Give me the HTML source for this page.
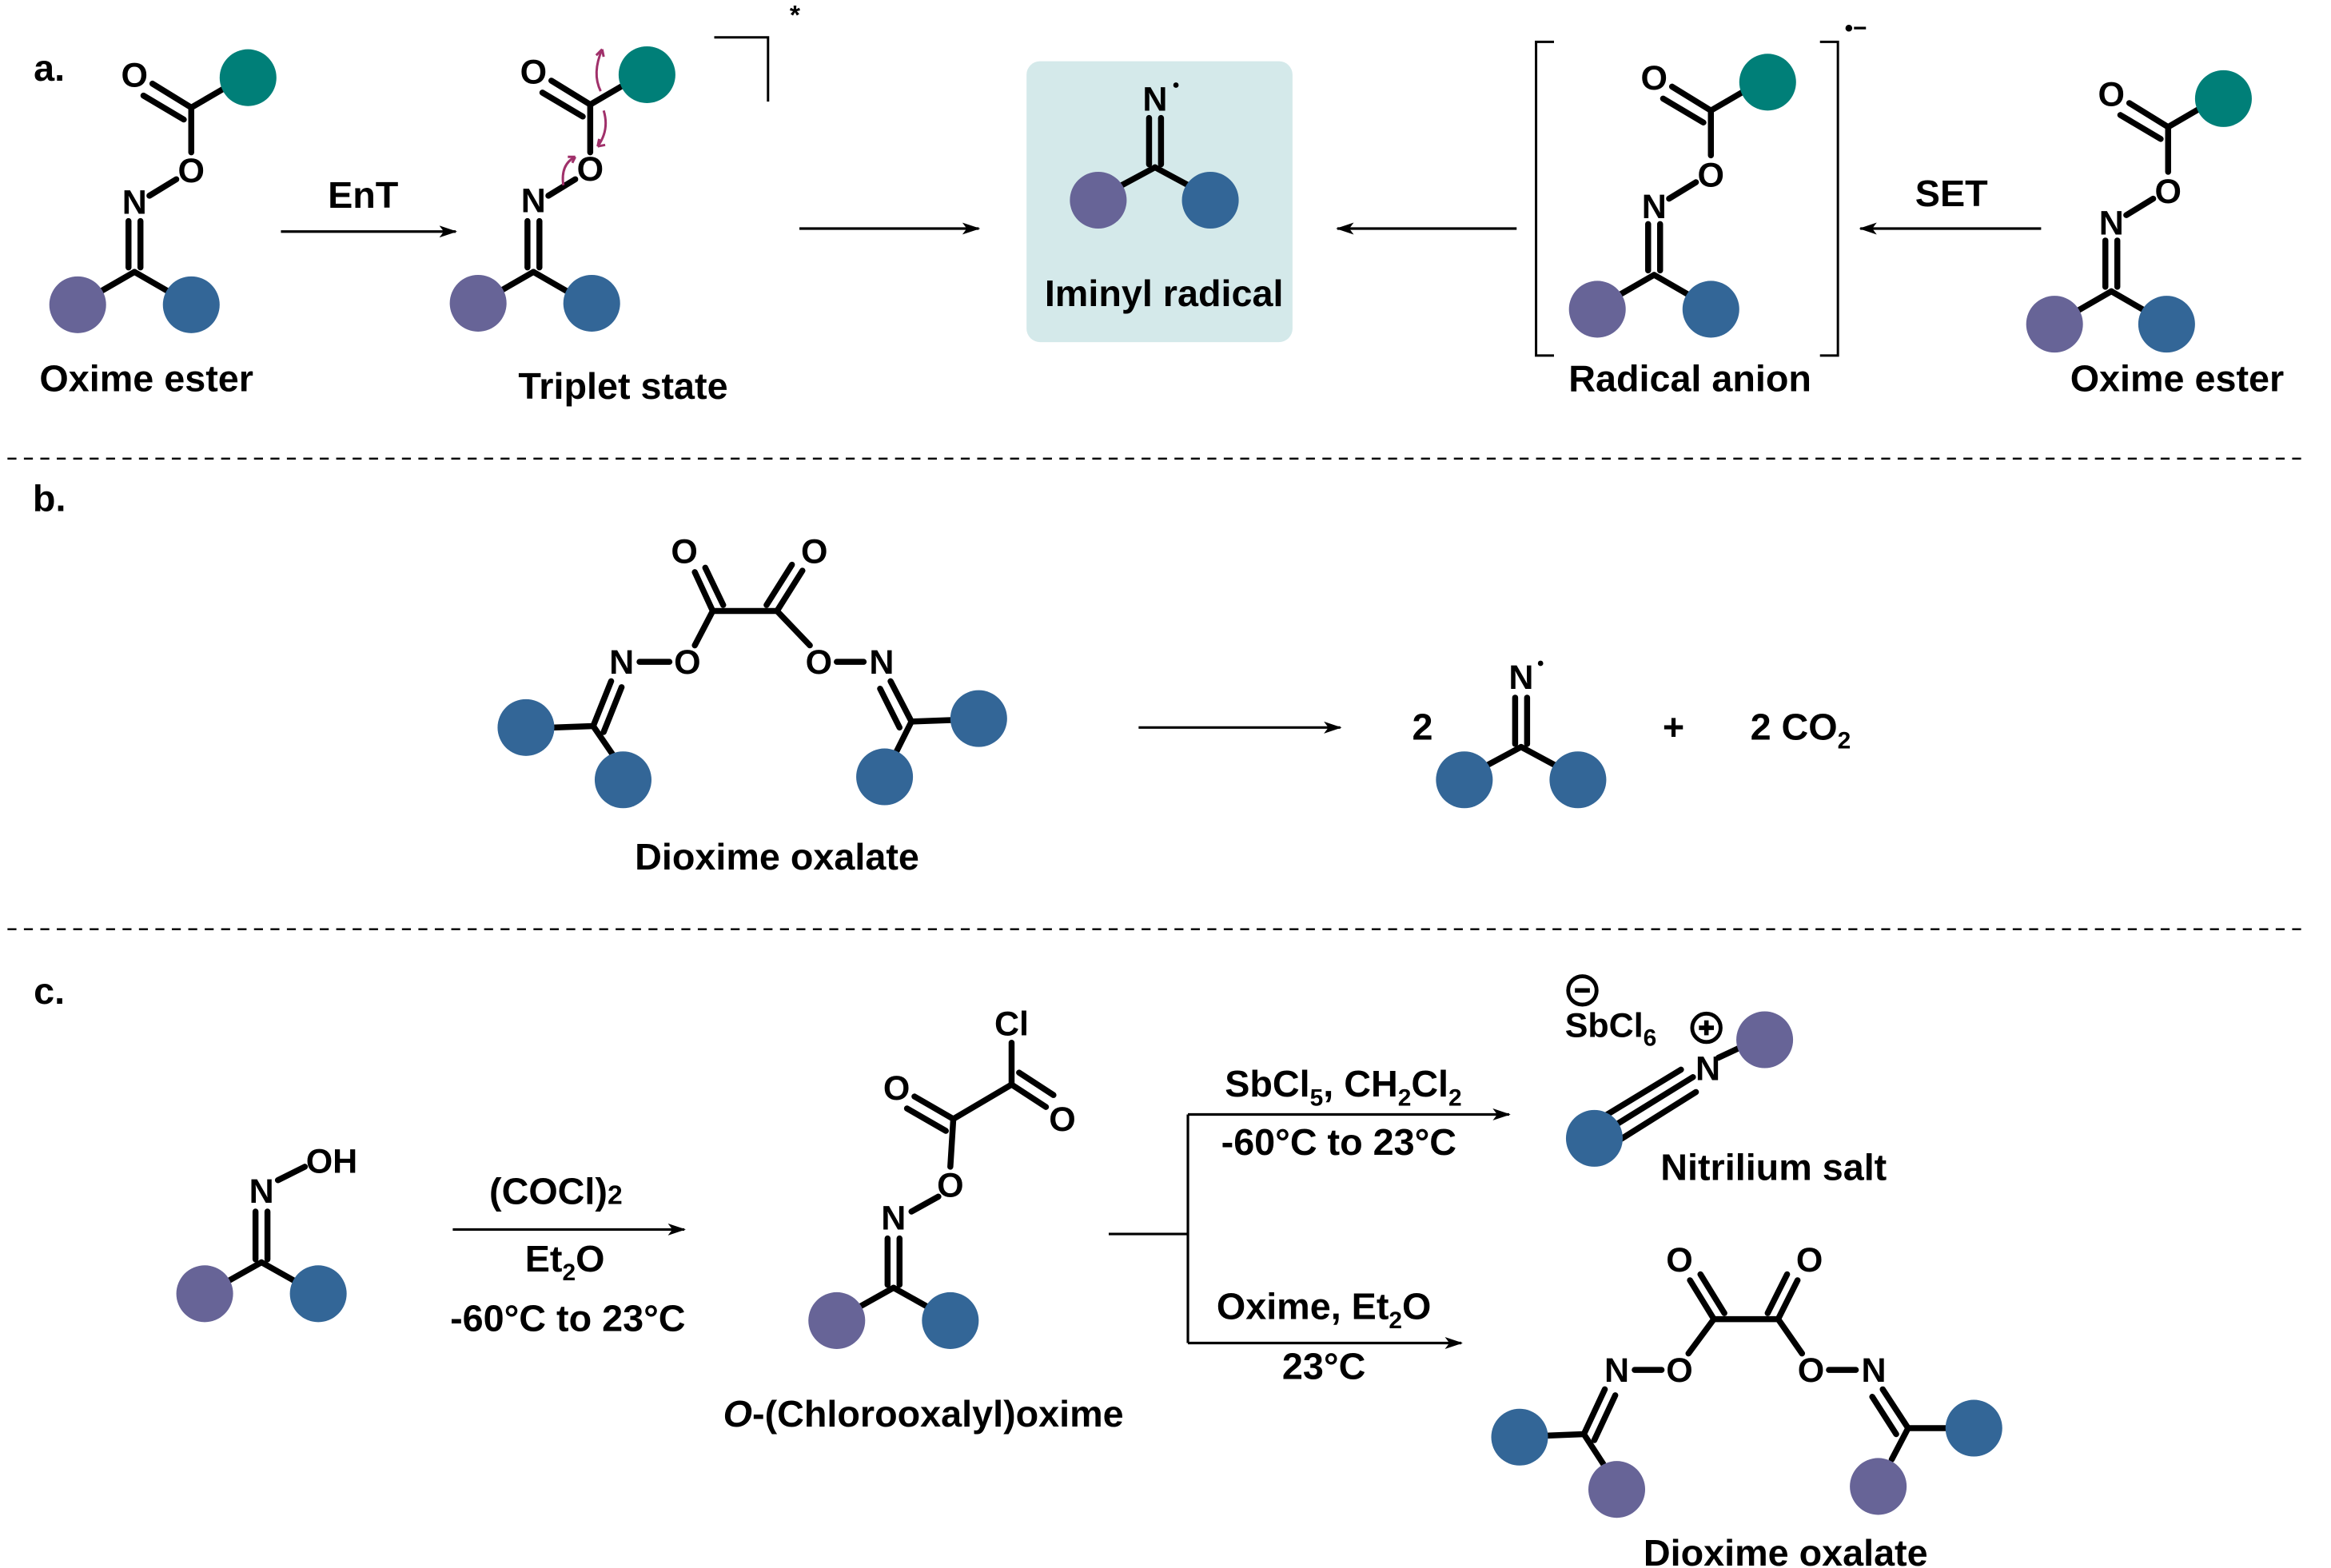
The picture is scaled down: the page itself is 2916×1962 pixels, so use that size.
<!DOCTYPE html>
<html><head><meta charset="utf-8"><style>
html,body{margin:0;padding:0;background:#fff;}
svg{display:block;}
.b{stroke:#000;stroke-width:4;stroke-linecap:round;fill:none;}
.t{stroke:#000;stroke-width:1.7;fill:none;}
.a{font-family:"Liberation Sans",sans-serif;font-size:23px;font-weight:bold;text-anchor:middle;fill:#000;}
.l{font-family:"Liberation Sans",sans-serif;font-size:25px;font-weight:bold;text-anchor:middle;fill:#000;}
.r{stroke:#a0306a;stroke-width:1.6;fill:none;}
.P{fill:#676497}.B{fill:#336697}.T{fill:#007f78}
</style></head><body>
<svg width="2916" height="1962" viewBox="0 0 1560 1049.6" preserveAspectRatio="none" xmlns="http://www.w3.org/2000/svg">
<defs><marker id="ar" markerWidth="12" markerHeight="8" refX="11" refY="4" orient="auto" markerUnits="userSpaceOnUse"><path d="M0,0 L12,4 L0,8 L3,4z" fill="#000"/></marker></defs>

<!-- a. -->
<text class="l" x="33" y="54">a.</text>
<g transform="translate(90,182)">
<line class="b" x1="0" y1="0" x2="-26" y2="15"/><line class="b" x1="0" y1="0" x2="26" y2="15"/>
<line class="b" x1="-4" y1="-3" x2="-4" y2="-34"/><line class="b" x1="4" y1="-3" x2="4" y2="-34"/>
<line class="b" x1="10" y1="-51" x2="28" y2="-62"/>
<line class="b" x1="38" y1="-80" x2="38" y2="-110"/>
<line class="b" x1="38" y1="-110" x2="62" y2="-124"/>
<line class="b" x1="38" y1="-110" x2="12" y2="-126"/><line class="b" x1="33" y1="-102" x2="6" y2="-118"/>
<circle class="P" cx="-38" cy="22" r="19"/><circle class="B" cx="38" cy="22" r="19"/><circle class="T" cx="76" cy="-130" r="19"/>
<text class="a" x="0" y="-39">N</text><text class="a" x="38" y="-60">O</text><text class="a" x="0" y="-124">O</text>
</g>
<text class="l" x="98" y="262">Oxime ester</text>
<line class="t" x1="188" y1="155" x2="305" y2="155" marker-end="url(#ar)"/>
<text class="l" x="243" y="139">EnT</text>
<g transform="translate(357,182)">
<line class="b" x1="0" y1="0" x2="-26" y2="15"/><line class="b" x1="0" y1="0" x2="26" y2="15"/>
<line class="b" x1="-4" y1="-3" x2="-4" y2="-34"/><line class="b" x1="4" y1="-3" x2="4" y2="-34"/>
<line class="b" x1="10" y1="-51" x2="28" y2="-62"/>
<line class="b" x1="38" y1="-80" x2="38" y2="-112"/>
<line class="b" x1="38" y1="-112" x2="62" y2="-126"/>
<line class="b" x1="38" y1="-112" x2="12" y2="-128"/><line class="b" x1="33" y1="-104" x2="6" y2="-120"/>
<circle class="P" cx="-37" cy="21" r="19"/><circle class="B" cx="39" cy="21" r="19"/><circle class="T" cx="76" cy="-132" r="19"/>
<text class="a" x="0" y="-40">N</text><text class="a" x="38" y="-61">O</text><text class="a" x="0" y="-126">O</text>
<path class="r" d="M45,-121 Q39,-133 46,-149"/><path d="M46,-149 l-4,4 M46,-149 l1,5" class="r"/>
<path class="r" d="M47,-108 Q51,-95 43,-84"/><path d="M43,-84 l5,-1 M43,-84 l1,-5" class="r"/>
<path class="r" d="M20,-58 Q18,-72 28,-77"/><path d="M28,-77 l-5,0 M28,-77 l-2,4" class="r"/>
</g>
<polyline points="478,25 514,25 514,68" fill="none" stroke="#000" stroke-width="1.6"/>
<text class="l" x="532" y="16" style="font-size:18px">*</text>
<text class="l" x="417" y="267">Triplet state</text>
<line class="t" x1="535" y1="153" x2="655" y2="153" marker-end="url(#ar)"/>
<rect x="687" y="41" width="178" height="188" rx="9" fill="#d4e9ea"/>
<g transform="translate(773,112)">
<line class="b" x1="0" y1="0" x2="-26" y2="14"/><line class="b" x1="0" y1="0" x2="26" y2="14"/>
<line class="b" x1="-4" y1="-2" x2="-4" y2="-33"/><line class="b" x1="4" y1="-2" x2="4" y2="-33"/>
<circle class="P" cx="-38" cy="22" r="19"/><circle class="B" cx="37" cy="22" r="19"/>
<text class="a" x="0" y="-38">N</text><circle cx="14" cy="-55" r="1.8" fill="#000"/>
</g>
<text class="l" x="779" y="205">Iminyl radical</text>
<line class="t" x1="1015" y1="153" x2="895" y2="153" marker-end="url(#ar)"/>
<polyline points="1040,28 1028,28 1028,238 1040,238" fill="none" stroke="#000" stroke-width="1.6"/>
<polyline points="1218,28 1230,28 1230,238 1218,238" fill="none" stroke="#000" stroke-width="1.6"/>
<text class="l" x="1242" y="24" style="font-size:16px">•−</text>
<g transform="translate(1107,184)">
<line class="b" x1="0" y1="0" x2="-26" y2="15"/><line class="b" x1="0" y1="0" x2="26" y2="15"/>
<line class="b" x1="-4" y1="-3" x2="-4" y2="-34"/><line class="b" x1="4" y1="-3" x2="4" y2="-34"/>
<line class="b" x1="10" y1="-51" x2="28" y2="-62"/>
<line class="b" x1="38" y1="-80" x2="38" y2="-110"/>
<line class="b" x1="38" y1="-110" x2="62" y2="-124"/>
<line class="b" x1="38" y1="-110" x2="12" y2="-126"/><line class="b" x1="33" y1="-102" x2="6" y2="-118"/>
<circle class="P" cx="-38" cy="23" r="19"/><circle class="B" cx="38" cy="23" r="19"/><circle class="T" cx="76" cy="-129" r="19"/>
<text class="a" x="0" y="-38">N</text><text class="a" x="38" y="-59">O</text><text class="a" x="0" y="-124">O</text>
</g>
<text class="l" x="1131" y="262">Radical anion</text>
<line class="t" x1="1366" y1="153" x2="1245" y2="153" marker-end="url(#ar)"/>
<text class="l" x="1306" y="138">SET</text>
<g transform="translate(1413,195)">
<line class="b" x1="0" y1="0" x2="-26" y2="15"/><line class="b" x1="0" y1="0" x2="26" y2="15"/>
<line class="b" x1="-4" y1="-3" x2="-4" y2="-34"/><line class="b" x1="4" y1="-3" x2="4" y2="-34"/>
<line class="b" x1="10" y1="-51" x2="28" y2="-62"/>
<line class="b" x1="38" y1="-80" x2="38" y2="-110"/>
<line class="b" x1="38" y1="-110" x2="62" y2="-124"/>
<line class="b" x1="38" y1="-110" x2="12" y2="-126"/><line class="b" x1="33" y1="-102" x2="6" y2="-118"/>
<circle class="P" cx="-38" cy="22" r="19"/><circle class="B" cx="37" cy="22" r="19"/><circle class="T" cx="75" cy="-129" r="19"/>
<text class="a" x="0" y="-38">N</text><text class="a" x="38" y="-59">O</text><text class="a" x="0" y="-124">O</text>
</g>
<text class="l" x="1457" y="262">Oxime ester</text>

<line x1="5" y1="307" x2="1545" y2="307" stroke="#000" stroke-width="1.3" stroke-dasharray="6,5"/>

<text class="l" x="33" y="342">b.</text>
<line class="b" x1="370" y1="487" x2="397" y2="486"/>
<line class="b" x1="397" y1="486" x2="410" y2="505"/>
<line class="b" x1="397" y1="486" x2="409" y2="456"/><line class="b" x1="404" y1="490" x2="416" y2="460"/>
<line class="b" x1="428" y1="443" x2="448" y2="443"/>
<line class="b" x1="465" y1="432" x2="477" y2="409"/>
<line class="b" x1="477" y1="409" x2="465" y2="383"/><line class="b" x1="484" y1="405" x2="472" y2="380"/>
<line class="b" x1="477" y1="409" x2="520" y2="409"/>
<line class="b" x1="520" y1="409" x2="537" y2="382"/><line class="b" x1="513" y1="405" x2="530" y2="378"/>
<line class="b" x1="520" y1="409" x2="542" y2="432"/>
<line class="b" x1="560" y1="443" x2="578" y2="443"/>
<line class="b" x1="596" y1="456" x2="610" y2="483"/><line class="b" x1="589" y1="461" x2="602" y2="487"/>
<line class="b" x1="610" y1="483" x2="637" y2="482"/><line class="b" x1="610" y1="483" x2="600" y2="503"/>
<circle class="B" cx="352" cy="487" r="19"/><circle class="B" cx="417" cy="522" r="19"/>
<circle class="B" cx="655" cy="481" r="19"/><circle class="B" cx="592" cy="520" r="19"/>
<text class="a" x="416" y="451">N</text><text class="a" x="460" y="451">O</text>
<text class="a" x="458" y="377">O</text><text class="a" x="545" y="377">O</text>
<text class="a" x="548" y="451">O</text><text class="a" x="590" y="451">N</text>
<text class="l" x="520" y="582">Dioxime oxalate</text>
<line class="t" x1="762" y1="487" x2="897" y2="487" marker-end="url(#ar)"/>
<text class="l" x="952" y="495">2</text>
<g transform="translate(1018,500)">
<line class="b" x1="0" y1="0" x2="-26" y2="14"/><line class="b" x1="0" y1="0" x2="26" y2="14"/>
<line class="b" x1="-4" y1="-2" x2="-4" y2="-33"/><line class="b" x1="4" y1="-2" x2="4" y2="-33"/>
<circle class="B" cx="-38" cy="22" r="19"/><circle class="B" cx="38" cy="22" r="19"/>
<text class="a" x="0" y="-39">N</text><circle cx="13" cy="-56" r="1.8" fill="#000"/>
</g>
<text class="l" x="1120" y="495">+</text>
<text class="l" x="1205" y="495">2 CO<tspan dy="6" style="font-size:16px">2</tspan></text>

<line x1="5" y1="622" x2="1545" y2="622" stroke="#000" stroke-width="1.3" stroke-dasharray="6,5"/>

<text class="l" x="33" y="672">c.</text>
<line class="b" x1="175" y1="845" x2="150" y2="859"/><line class="b" x1="175" y1="845" x2="200" y2="859"/>
<line class="b" x1="171" y1="843" x2="171" y2="811"/><line class="b" x1="179" y1="843" x2="179" y2="811"/>
<line class="b" x1="186" y1="790" x2="204" y2="781"/>
<circle class="P" cx="137" cy="866" r="19"/><circle class="B" cx="213" cy="866" r="19"/>
<text class="a" x="175" y="805">N</text><text class="a" x="222" y="785">OH</text>
<line class="t" x1="303" y1="823" x2="458" y2="823" marker-end="url(#ar)"/>
<text class="l" x="372" y="806">(COCl)<tspan style="font-size:18px">2</tspan></text>
<text class="l" x="378" y="851">Et<tspan dy="6" style="font-size:16px">2</tspan><tspan dy="-6">O</tspan></text>
<text class="l" x="380" y="891">-60°C to 23°C</text>
<line class="b" x1="677" y1="698" x2="677" y2="726"/>
<line class="b" x1="677" y1="726" x2="700" y2="741"/><line class="b" x1="682" y1="718" x2="705" y2="733"/>
<line class="b" x1="677" y1="726" x2="638" y2="749"/>
<line class="b" x1="638" y1="749" x2="612" y2="734"/><line class="b" x1="633" y1="757" x2="607" y2="742"/>
<line class="b" x1="638" y1="749" x2="636" y2="781"/>
<line class="b" x1="628" y1="801" x2="610" y2="811"/>
<line class="b" x1="594" y1="829" x2="594" y2="860"/><line class="b" x1="602" y1="829" x2="602" y2="860"/>
<line class="b" x1="598" y1="862" x2="573" y2="876"/><line class="b" x1="598" y1="862" x2="623" y2="876"/>
<circle class="P" cx="560" cy="884" r="19"/><circle class="B" cx="636" cy="884" r="19"/>
<text class="a" x="677" y="693">Cl</text><text class="a" x="711" y="757">O</text><text class="a" x="600" y="736">O</text>
<text class="a" x="636" y="801">O</text><text class="a" x="598" y="823">N</text>
<text class="l" x="618" y="955"><tspan font-style="italic">O</tspan>-(Chlorooxalyl)oxime</text>
<line class="t" x1="742" y1="826" x2="795" y2="826"/>
<line class="t" x1="795" y1="746" x2="795" y2="899"/>
<line class="t" x1="795" y1="746" x2="1010" y2="746" marker-end="url(#ar)"/>
<line class="t" x1="795" y1="899" x2="978" y2="899" marker-end="url(#ar)"/>
<text class="l" x="899" y="734">SbCl<tspan dy="6" style="font-size:16px">5</tspan><tspan dy="-6">, CH</tspan><tspan dy="6" style="font-size:16px">2</tspan><tspan dy="-6">Cl</tspan><tspan dy="6" style="font-size:16px">2</tspan></text>
<text class="l" x="896" y="773">-60°C to 23°C</text>
<text class="l" x="886" y="883">Oxime, Et<tspan dy="6" style="font-size:16px">2</tspan><tspan dy="-6">O</tspan></text>
<text class="l" x="886" y="923">23°C</text>
<circle cx="1059" cy="663" r="9.5" fill="none" stroke="#000" stroke-width="2.6"/><line x1="1054" y1="663" x2="1064" y2="663" stroke="#000" stroke-width="3"/>
<text class="a" x="1078" y="694" style="font-size:23px">SbCl<tspan dy="6" style="font-size:16px">6</tspan></text>
<circle cx="1142" cy="688" r="9.5" fill="none" stroke="#000" stroke-width="2.6"/>
<line x1="1137" y1="688" x2="1147" y2="688" stroke="#000" stroke-width="3"/><line x1="1142" y1="683" x2="1142" y2="693" stroke="#000" stroke-width="3"/>
<line class="b" x1="1078" y1="755" x2="1133" y2="721"/>
<line class="b" x1="1074" y1="747" x2="1125" y2="716"/>
<line class="b" x1="1084" y1="763" x2="1135" y2="731"/>
<line class="b" x1="1150" y1="708" x2="1165" y2="701"/>
<circle class="B" cx="1067" cy="762" r="19"/><circle class="P" cx="1181" cy="696" r="19"/>
<text class="a" x="1143" y="723">N</text>
<text class="l" x="1187" y="790">Nitrilium salt</text>
<line class="b" x1="1035" y1="961" x2="1060" y2="960"/>
<line class="b" x1="1060" y1="960" x2="1073" y2="980"/>
<line class="b" x1="1060" y1="960" x2="1074" y2="930"/><line class="b" x1="1067" y1="964" x2="1081" y2="934"/>
<line class="b" x1="1094" y1="917" x2="1112" y2="917"/>
<line class="b" x1="1130" y1="906" x2="1147" y2="883"/>
<line class="b" x1="1147" y1="883" x2="1131" y2="857"/><line class="b" x1="1154" y1="879" x2="1138" y2="853"/>
<line class="b" x1="1147" y1="883" x2="1190" y2="883"/>
<line class="b" x1="1190" y1="883" x2="1203" y2="857"/><line class="b" x1="1183" y1="879" x2="1196" y2="853"/>
<line class="b" x1="1190" y1="883" x2="1206" y2="906"/>
<line class="b" x1="1224" y1="917" x2="1242" y2="917"/>
<line class="b" x1="1260" y1="930" x2="1277" y2="956"/><line class="b" x1="1253" y1="935" x2="1269" y2="960"/>
<line class="b" x1="1277" y1="956" x2="1303" y2="956"/><line class="b" x1="1277" y1="956" x2="1266" y2="977"/>
<circle class="B" cx="1017" cy="962" r="19"/><circle class="P" cx="1082" cy="997" r="19"/>
<circle class="B" cx="1321" cy="956" r="19"/><circle class="P" cx="1257" cy="995" r="19"/>
<text class="a" x="1082" y="925">N</text><text class="a" x="1124" y="925">O</text>
<text class="a" x="1124" y="851">O</text><text class="a" x="1211" y="851">O</text>
<text class="a" x="1212" y="925">O</text><text class="a" x="1254" y="925">N</text>
<text class="l" x="1195" y="1048">Dioxime oxalate</text>
</svg>
</body></html>
